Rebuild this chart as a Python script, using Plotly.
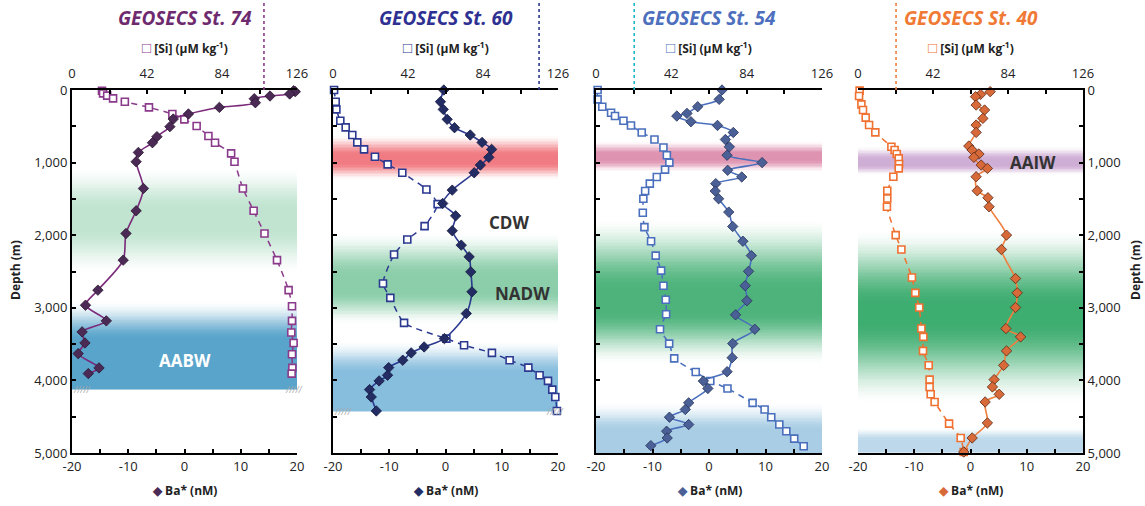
import plotly.graph_objects as go

# ---------------- data ----------------
stations = ["GEOSECS St. 74", "GEOSECS St. 60", "GEOSECS St. 54", "GEOSECS St. 40"]

st74_ba_depth = [10, 23, 55, 83, 120, 175, 240, 330, 400, 505, 643, 726, 860, 988, 1356, 1664, 1976, 2344, 2757, 2964, 3180, 3332, 3484, 3631, 3828, 3906]
st74_ba = [19.4, 19.7, 18.7, 15.2, 12.4, 12.6, 6.2, 0.7, -2.0, -2.6, -4.9, -5.7, -8.2, -8.6, -7.3, -8.6, -10.4, -10.9, -15.4, -17.6, -13.9, -18.2, -17.7, -18.9, -15.2, -17.1]
st74_si_depth = [10, 46, 78, 115, 161, 239, 331, 404, 496, 634, 726, 873, 988, 1356, 1664, 1976, 2344, 2757, 2978, 3180, 3341, 3484, 3640, 3828, 3906]
st74_si = [16.8, 17.4, 19.7, 23.0, 29.6, 43.1, 56.2, 62.9, 69.8, 76.4, 80.1, 89.1, 91.0, 95.7, 101.7, 107.8, 114.8, 121.3, 123.2, 123.2, 122.8, 124.1, 123.2, 123.4, 123.0]

st60_ba_depth = [0, 161, 267, 404, 519, 620, 722, 818, 928, 1034, 1140, 1379, 1563, 1733, 1939, 2137, 2298, 2505, 2780, 3079, 3424, 3539, 3621, 3722, 3824, 3929, 4007, 4127, 4228, 4421]
st60_ba = [-0.3, -0.9, -0.4, 0.3, 1.6, 4.4, 6.5, 8.2, 7.7, 6.2, 5.1, 1.2, -0.5, 1.8, 1.2, 2.8, 4.2, 4.5, 4.7, 3.7, -0.2, -3.8, -6.1, -7.6, -10.1, -10.3, -11.8, -13.5, -13.2, -12.3]
st60_si_depth = [0, 161, 267, 423, 515, 620, 722, 818, 919, 1025, 1140, 1370, 1572, 1875, 2059, 2266, 2665, 2863, 3208, 3424, 3516, 3621, 3722, 3824, 3929, 4007, 4127, 4228, 4421]
st60_si = [0.6, 1.5, 1.9, 4.1, 7.1, 10.8, 13.6, 17.4, 23.5, 30.6, 38.8, 52.3, 58.6, 51.3, 41.6, 34.2, 28.0, 32.1, 39.8, 63.5, 73.4, 89.0, 98.9, 109.4, 115.7, 120.4, 122.8, 124.5, 125.4]

st54_ba_depth = [0, 129, 230, 322, 359, 437, 488, 585, 682, 783, 898, 1000, 1106, 1198, 1290, 1392, 1498, 1682, 1880, 2083, 2281, 2498, 2696, 2903, 3097, 3295, 3493, 3687, 3880, 4009, 4111, 4309, 4401, 4507, 4608, 4700, 4793, 4899]
st54_ba = [2.3, 1.8, -2.0, -3.9, -5.7, -3.2, 1.5, 4.3, 2.9, 3.6, 3.2, 9.4, 3.3, 5.8, 1.2, 1.1, 1.7, 3.5, 4.2, 6.0, 7.5, 7.0, 6.4, 6.7, 4.7, 8.1, 4.2, 4.1, 3.2, -1.0, -0.2, -3.6, -4.2, -7.0, -3.6, -7.5, -7.4, -10.3]
st54_si_depth = [0, 129, 230, 313, 359, 424, 488, 585, 682, 793, 898, 1000, 1097, 1198, 1290, 1392, 1498, 1691, 1889, 2083, 2281, 2488, 2696, 2890, 3088, 3295, 3493, 3696, 3885, 4009, 4111, 4309, 4401, 4507, 4608, 4700, 4802, 4908]
st54_si = [0.9, 0.9, 3.5, 8.4, 10.6, 15.3, 19.5, 25.5, 32.6, 37.6, 39.5, 40.9, 38.5, 33.9, 30.0, 27.4, 26.4, 26.1, 27.0, 30.7, 33.3, 36.3, 37.6, 38.9, 39.1, 35.7, 40.8, 43.6, 55.6, 63.7, 73.3, 87.3, 94.0, 97.7, 102.2, 106.1, 110.5, 115.8]

st40_ba_depth = [23, 60, 92, 207, 276, 391, 483, 584, 772, 827, 882, 928, 1034, 1080, 1195, 1388, 1484, 1608, 1999, 2197, 2597, 2794, 2996, 3286, 3401, 3594, 3792, 3989, 4090, 4191, 4297, 4586, 4793, 4986]
st40_ba = [3.5, 1.8, 0.9, 1.0, 2.5, 2.2, 1.0, 1.0, -0.3, 0.3, 1.5, 0.6, 1.9, 3.0, 1.0, 1.2, 3.1, 3.3, 6.4, 5.5, 8.0, 8.3, 8.0, 6.3, 8.9, 6.4, 5.9, 4.2, 3.9, 5.1, 2.6, 3.0, 0.3, -1.2]
st40_si_depth = [9, 83, 198, 276, 381, 483, 584, 781, 827, 882, 942, 1020, 1080, 1195, 1388, 1494, 1608, 1999, 2197, 2583, 2794, 2996, 3286, 3401, 3594, 3792, 3989, 4090, 4191, 4297, 4596, 4793, 4986]
st40_si = [0.9, 0.6, 1.9, 2.8, 4.3, 6.2, 9.7, 18.7, 20.5, 21.7, 22.8, 23.0, 22.8, 19.8, 16.4, 16.4, 16.2, 21.1, 24.3, 30.2, 32.1, 34.3, 35.5, 36.6, 36.4, 39.6, 40.1, 40.1, 40.7, 42.9, 51.0, 57.5, 59.2]

# surface-marker Si value (dotted line above each panel)
si_marker = [107.5, 115.4, 21.3, 21.3]
# seafloor depths (hatch marks); None = below 5000 m
seafloor = [4130, 4430, None, None]

# water-mass bands: (fade-in top, full top, full bottom, fade-out bottom) in m
bands = [
    [("green", 0.30, 1050, 1650, 1900, 2550), ("blue1", 1.0, 2900, 3450, 4130, 4131)],
    [("red", 0.85, 620, 900, 1010, 1240), ("green", 0.55, 1950, 2550, 2780, 3250), ("blue2", 1.0, 3450, 3900, 4430, 4431)],
    [("pink", 0.65, 700, 880, 960, 1140), ("green", 0.85, 1750, 2750, 3050, 3800), ("blue3", 1.0, 4300, 4700, 5000, 5001)],
    [("purple", 0.6, 780, 950, 1040, 1170), ("green", 0.92, 1900, 2950, 3200, 4350), ("blue4", 1.0, 4650, 4820, 5000, 5001)],
]
band_colors = {
    "green": (46, 166, 100), "red": (238, 100, 108), "pink": (205, 90, 135),
    "purple": (175, 120, 185), "blue1": (88, 164, 203), "blue2": (135, 189, 221),
    "blue3": (168, 205, 228), "blue4": (188, 216, 234),
}
labels = [[("AABW", 0, 3720, "white")], [("CDW", 11.2, 1830, "#333333"), ("NADW", 13.6, 2800, "#333333")], [], [("AAIW", 11.1, 1000, "#333333")]]

ba_data = [(st74_ba_depth, st74_ba), (st60_ba_depth, st60_ba), (st54_ba_depth, st54_ba), (st40_ba_depth, st40_ba)]
si_data = [(st74_si_depth, st74_si), (st60_si_depth, st60_si), (st54_si_depth, st54_si), (st40_si_depth, st40_si)]

ba_ticks = [-20, -15, -10, -5, 0, 5, 10, 15, 20]
si_ticks = [0, 21, 42, 63, 84, 105, 126]
si_ticktext = ["0", "", "42", "", "84", "", "126"]
depth_ticks = list(range(0, 5001, 500))
depth_text = ["0", "", "1,000", "", "2,000", "", "3,000", "", "4,000", "", "5,000"]

# ---------------- style ----------------
line_col = ["#7a2a7a", "#2b3990", "#4a6fbd", "#f08040"]
dia_fill = ["#4b2a55", "#232c63", "#4b6096", "#d86a3a"]
dia_edge = ["#2a1530", "#141a40", "#26345a", "#5a2a15"]
sq_edge = ["#8a3a8a", "#2b3990", "#4a6fbd", "#f07030"]
title_col = ["#6e2a6e", "#2e3192", "#4d6fbd", "#f07a35"]
dot_col = ["#8a3a8a", "#2b3990", "#22b5c5", "#f08040"]

W, H = 1145, 506
px_x = [(72, 297), (333, 558), (596, 822), (858, 1083)]
ytop, ybot = 90, 453
ydom = [1 - ybot / H, 1 - ytop / H]
FONT = "Open Sans"

fig = go.Figure()
layout = dict(width=W, height=H, autosize=False,
              margin=dict(l=0, r=0, t=0, b=0, pad=0, autoexpand=False),
              paper_bgcolor="white", plot_bgcolor="white", showlegend=False,
              font=dict(family=FONT, size=12, color="#222"))
annotations = []
shapes = []


def smooth(t):
    return t * t * (3 - 2 * t)


for i in range(4):
    xs = "x%d" % (2 * i + 1) if i > 0 else "x"
    xb = "x%d" % (2 * i + 2)
    ya = "y%d" % (i + 1) if i > 0 else "y"
    dom = [px_x[i][0] / W, px_x[i][1] / W]
    sk = "xaxis%d" % (2 * i + 1) if i > 0 else "xaxis"
    bk = "xaxis%d" % (2 * i + 2)
    yk = "yaxis%d" % (i + 1) if i > 0 else "yaxis"

    common = dict(showgrid=False, zeroline=False, showline=True, linecolor="black", linewidth=2,
                  ticks="inside", ticklen=4, tickwidth=1.5, tickcolor="black", automargin=False,
                  tickfont=dict(family=FONT, size=13, color="#222"))
    layout[sk] = dict(common, domain=dom, anchor=ya, side="top", range=[0, 126],
                      tickmode="array", tickvals=si_ticks, ticktext=si_ticktext,
                      ticklabelstandoff=5)
    layout[bk] = dict(common, domain=dom, anchor=ya, side="bottom", range=[-20, 20], overlaying=xs,
                      tickmode="array", tickvals=ba_ticks,
                      ticktext=[str(v) if v % 10 == 0 else "" for v in ba_ticks])
    ycfg = dict(common, domain=ydom, anchor=xs, range=[5000, 0], tickmode="array",
                tickvals=depth_ticks, ticktext=depth_text)
    if i == 3:
        ycfg.update(side="right")
    if i in (1, 2):
        ycfg.update(showticklabels=False)
    layout[yk] = ycfg

    # background bands (heatmaps on Si axis)
    for name, amax, a, b, c, d in bands[i]:
        r, g, bl = band_colors[name]
        step = 20
        edges = list(range(a, d + 1, step))
        if edges[-1] != d:
            edges.append(d)
        z = []
        for k in range(len(edges) - 1):
            m = 0.5 * (edges[k] + edges[k + 1])
            if m < b:
                v = smooth((m - a) / (b - a)) if b > a else 1
            elif m <= c:
                v = 1.0
            else:
                v = smooth((d - m) / (d - c)) if d > c else 1
            z.append([max(0.0, min(1.0, v))])
        fig.add_trace(go.Heatmap(x=[0, 126], y=edges, z=z, xaxis=xs, yaxis=ya,
                                 colorscale=[[0, "rgba(%d,%d,%d,0)" % (r, g, bl)],
                                             [1, "rgba(%d,%d,%d,%.2f)" % (r, g, bl, amax)]],
                                 zmin=0, zmax=1, showscale=False, hoverinfo="skip"))

    # Si profile (dashed, open squares)
    sd, sv = si_data[i]
    fig.add_trace(go.Scatter(x=sv, y=sd, xaxis=xs, yaxis=ya, mode="lines+markers",
                             line=dict(color=sq_edge[i], width=1.5, dash="6px,5px", shape="spline", smoothing=0.6),
                             marker=dict(symbol="square", size=7, color="white",
                                         line=dict(color=sq_edge[i], width=1.6)),
                             cliponaxis=False))
    # Ba* profile (solid, diamonds)
    bd, bv = ba_data[i]
    fig.add_trace(go.Scatter(x=bv, y=bd, xaxis=xb, yaxis=ya, mode="lines+markers",
                             line=dict(color=line_col[i], width=1.6, shape="spline", smoothing=0.8),
                             marker=dict(symbol="diamond", size=8, color=dia_fill[i],
                                         line=dict(color=dia_edge[i], width=0.8)),
                             cliponaxis=False))

    cx = (dom[0] + dom[1]) / 2
    annotations.append(dict(text="<b><i>%s</i></b>" % stations[i], x=cx, y=1 - 18 / H, xref="paper", yref="paper",
                            xanchor="center", yanchor="middle",
                            showarrow=False, font=dict(family=FONT, size=19, color=title_col[i])))
    annotations.append(dict(text="<b><span style='color:%s;font-size:15px'>□</span> [Si] (μM kg<sup>-1</sup>)</b>" % sq_edge[i],
                            x=cx, y=1 - 47 / H, xref="paper", yref="paper", showarrow=False,
                            xanchor="center", yanchor="middle",
                            font=dict(family=FONT, size=12, color="#222")))
    annotations.append(dict(text="<b><span style='color:%s'>◆</span> Ba* (nM)</b>" % dia_fill[i],
                            x=cx, y=1 - 490 / H, xref="paper", yref="paper", showarrow=False,
                            xanchor="center", yanchor="middle",
                            font=dict(family=FONT, size=12, color="#222")))
    for txt, lx, ly, col in labels[i]:
        annotations.append(dict(text="<b>%s</b>" % txt, x=lx, y=ly, xref=xb, yref=ya, showarrow=False,
                                xanchor="center", yanchor="middle",
                                font=dict(family=FONT, size=17, color=col)))
    # dotted marker line above the panel
    shapes.append(dict(type="line", xref=xs, yref="paper", x0=si_marker[i], x1=si_marker[i],
                       y0=ydom[1], y1=1.0, line=dict(color=dot_col[i], width=1.6, dash="dot")))
    # seafloor hatch
    if seafloor[i] is not None:
        for hx, anc in ((-20, "left"), (20, "right")):
            annotations.append(dict(text="<i>/////</i>", x=hx, y=seafloor[i], xref=xb, yref=ya,
                                    showarrow=False, xanchor=anc, yanchor="middle",
                                    xshift=-1 if anc == "left" else 8,
                                    font=dict(family=FONT, size=9, color="#aaaaaa")))

annotations.append(dict(text="<b>Depth (m)</b>", x=15 / W, y=1 - 270 / H, xref="paper", yref="paper",
                        xanchor="center", yanchor="middle",
                        showarrow=False, textangle=-90, font=dict(family=FONT, size=12, color="#222")))
annotations.append(dict(text="<b>Depth (m)</b>", x=1135 / W, y=1 - 270 / H, xref="paper", yref="paper",
                        xanchor="center", yanchor="middle",
                        showarrow=False, textangle=-90, font=dict(family=FONT, size=12, color="#222")))

layout["annotations"] = annotations
layout["shapes"] = shapes
fig.update_layout(**layout)
fig.write_html("out.html")
